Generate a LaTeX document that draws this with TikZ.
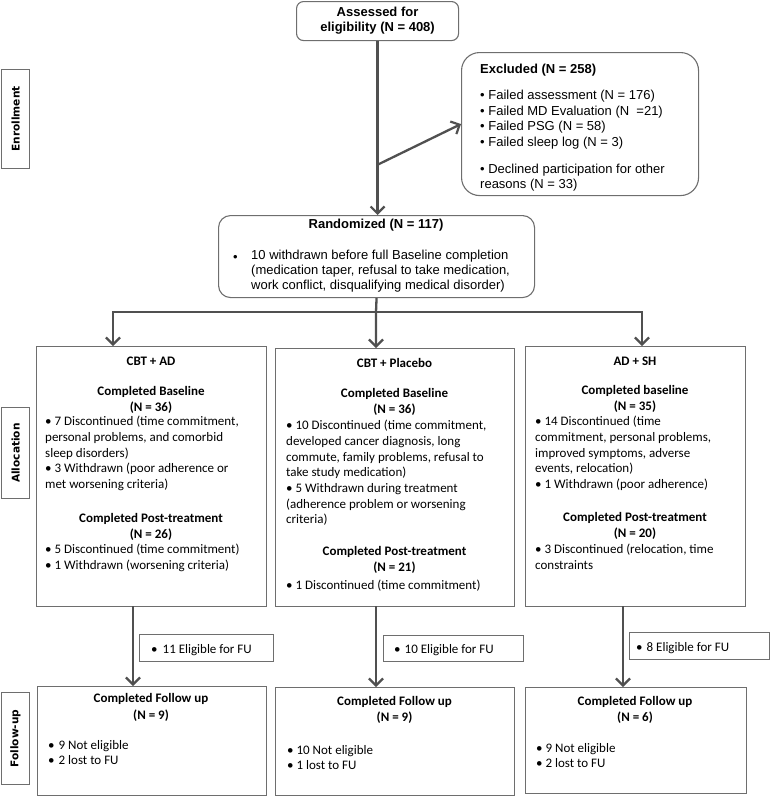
\documentclass[tikz,border=0pt]{standalone}
\usepackage{fontspec}
\setmainfont{Carlito}
\newfontfamily\arialf{Liberation Sans}
\newfontfamily\dejaf{DejaVu Sans}
\usetikzlibrary{arrows.meta}
\definecolor{boxgray}{HTML}{6E6E6E}
\definecolor{arrgray}{HTML}{505050}
\newcommand\cfnt{\fontsize{13}{15.7}\selectfont}
\newcommand\afnt{\arialf\fontsize{13}{15.6}\selectfont}
\begin{document}
\begin{tikzpicture}[x=1pt,y=-1pt,
  box/.style={draw=boxgray, line width=1.1pt, inner sep=0pt, anchor=north west},
  tipb/.tip={Straight Barb[length=7pt,width=14pt,line width=2.2pt]},
  arr/.style={draw=arrgray, line width=2.3pt, -tipb},
  arrs/.style={draw=arrgray, line width=2.3pt, tipb-tipb},
  ln/.style={draw=arrgray, line width=2.3pt},
  lab/.style={font=\dejaf\bfseries\fontsize{10.6}{12}\selectfont, rotate=90, inner sep=0pt},
  blk/.style={anchor=north west, inner sep=0pt, align=left, execute at begin node=\strut},
  cblk/.style={anchor=north, inner sep=0pt, align=center, execute at begin node=\strut},
  one/.style={anchor=base west, inner sep=0pt},
  onec/.style={anchor=base, inner sep=0pt},
]
\useasboundingbox (0,0) rectangle (770,796);

% side labels
\node[box, minimum width=28pt, minimum height=99pt] (enr) at (1,69) {};
\node[lab] (enrt) at (enr.center) {Enrollment};
\node[box, minimum width=28pt, minimum height=91pt] (alc) at (1,407) {};
\node[lab] (alct) at (alc.center) {Allocation};
\node[box, minimum width=28pt, minimum height=92pt] (fol) at (1,692) {};
\node[lab] (folt) at (fol.center) {Follow-up};

% top
\node[box, rounded corners=7pt, minimum width=162pt, minimum height=39pt,
      align=center, font=\arialf\bfseries\fontsize{13}{15}\selectfont] (assess) at (296,1)
      {Assessed for\\eligibility (N = 408)};

\node[box, rounded corners=18pt, minimum width=237pt, minimum height=143pt] (excl) at (461,52) {};
\node[blk, font=\afnt] (exclt) at (480,64)
  {\textbf{Excluded (N = 258)}\\[10.3pt]
   • Failed assessment (N = 176)\\
   • Failed MD Evaluation (N\ \ =21)\\
   • Failed PSG (N = 58)\\
   • Failed sleep log (N = 3)\\[11.3pt]
   • Declined participation for other\\
   reasons (N = 33)};

\node[box, rounded corners=12pt, minimum width=316pt, minimum height=82pt] (rand) at (218,215) {};
\node[onec, font=\afnt\bfseries] (randt) at (376,228) {Randomized (N = 117)};
\node[one, font=\afnt] (randb) at (233,261) {•};
\node[blk, font=\arialf\fontsize{13}{15}\selectfont] (randx) at (251,250)
  {10 withdrawn before full Baseline completion\\
   (medication taper, refusal to take medication,\\
   work conflict, disqualifying medical disorder)};

% arms
\node[box, minimum width=230pt, minimum height=260pt] (arm1) at (36,346) {};
\node[box, minimum width=239pt, minimum height=258pt] (arm2) at (275,348) {};
\node[box, minimum width=220pt, minimum height=260pt] (arm3) at (525,346) {};

\node[onec, font=\cfnt\bfseries] (a1h) at (151,365) {CBT + AD};
\node[cblk, font=\cfnt\bfseries] (a1b) at (151,386) {Completed Baseline\\(N = 36)};
\node[blk, font=\cfnt] (a1l) at (45,416)
  {• 7 Discontinued (time commitment,\\
   personal problems, and comorbid\\
   sleep disorders)\\
   • 3 Withdrawn (poor adherence or\\
   met worsening criteria)};
\node[cblk, font=\cfnt\bfseries] (a1p) at (151,513) {Completed Post-treatment\\(N = 26)};
\node[blk, font=\cfnt] (a1q) at (45,544)
  {• 5 Discontinued (time commitment)\\
   • 1 Withdrawn (worsening criteria)};

\node[onec, font=\cfnt\bfseries] (a2h) at (394.5,367) {CBT + Placebo};
\node[cblk, font=\cfnt\bfseries] (a2b) at (394.5,388) {Completed Baseline\\(N = 36)};
\node[blk, font=\cfnt] (a2l) at (286,420)
  {• 10 Discontinued (time commitment,\\
   developed cancer diagnosis, long\\
   commute, family problems, refusal to\\
   take study medication)\\
   • 5 Withdrawn during treatment\\
   (adherence problem or worsening\\
   criteria)};
\node[cblk, font=\cfnt\bfseries] (a2p) at (394.5,546) {Completed Post-treatment\\(N = 21)};
\node[blk, font=\cfnt] (a2q) at (286,578) {• 1 Discontinued (time commitment)};

\node[onec, font=\cfnt\bfseries] (a3h) at (635,365) {AD + SH};
\node[cblk, font=\cfnt\bfseries] (a3b) at (635,385) {Completed baseline\\(N = 35)};
\node[blk, font=\cfnt] (a3l) at (535,416)
  {• 14 Discontinued (time\\
   commitment, personal problems,\\
   improved symptoms, adverse\\
   events, relocation)\\
   • 1 Withdrawn (poor adherence)};
\node[cblk, font=\cfnt\bfseries] (a3p) at (635,512) {Completed Post-treatment\\(N = 20)};
\node[blk, font=\cfnt] (a3q) at (535,544)
  {• 3 Discontinued (relocation, time\\
   constraints};

% eligible boxes
\node[box, minimum width=134pt, minimum height=27pt] (e1) at (139,634) {};
\node[one, font=\cfnt] (e1t) at (151,653) {•\hspace{5pt}11 Eligible for FU};
\node[box, minimum width=140pt, minimum height=26pt] (e2) at (383,635) {};
\node[one, font=\cfnt] (e2t) at (394,653) {•\hspace{4pt}10 Eligible for FU};
\node[box, minimum width=140pt, minimum height=27pt] (e3) at (629,632) {};
\node[one, font=\cfnt] (e3t) at (636,651) {•\hspace{4pt}8 Eligible for FU};

% follow-up boxes
\node[box, minimum width=229pt, minimum height=109pt] (f1) at (37,686) {};
\node[cblk, font=\fontsize{13}{17}\selectfont\bfseries] (f1h) at (151,693) {Completed Follow up\\(N = 9)};
\node[blk, font=\cfnt] (f1l) at (48,740) {•\hspace{4pt}9 Not eligible\\•\hspace{4pt}2 lost to FU};
\node[box, minimum width=239pt, minimum height=108pt] (f2) at (275,687) {};
\node[cblk, font=\fontsize{13}{16}\selectfont\bfseries] (f2h) at (394.5,696) {Completed Follow up\\(N = 9)};
\node[blk, font=\cfnt] (f2l) at (287,745) {• 10 Not eligible\\• 1 lost to FU};
\node[box, minimum width=221pt, minimum height=106pt] (f3) at (525,687) {};
\node[cblk, font=\fontsize{13}{16}\selectfont\bfseries] (f3h) at (635,696) {Completed Follow up\\(N = 6)};
\node[blk, font=\cfnt] (f3l) at (536,743) {• 9 Not eligible\\• 2 lost to FU};

% connectors
\draw[arr] (assess.south) -- (assess.south |- rand.north);
\coordinate (br) at (377,165);
\draw[arr] (br) -- (excl.west);
\coordinate (sp) at (376,312);
\coordinate (spl) at (113,312);
\coordinate (spr) at (642,312);
\draw[arrs] (spl |- arm1.north) -- (spl) -- (spr) -- (spr |- arm3.north);
\draw[arr] (rand.south) -- (sp) -- (sp |- arm2.north);
\coordinate (b1) at (133,606);
\coordinate (b2) at (376,606);
\coordinate (b3) at (623,606);
\draw[arr] (b1) -- (b1 |- f1.north);
\draw[arr] (b2) -- (b2 |- f2.north);
\draw[arr] (b3) -- (b3 |- f3.north);
\end{tikzpicture}
\end{document}
